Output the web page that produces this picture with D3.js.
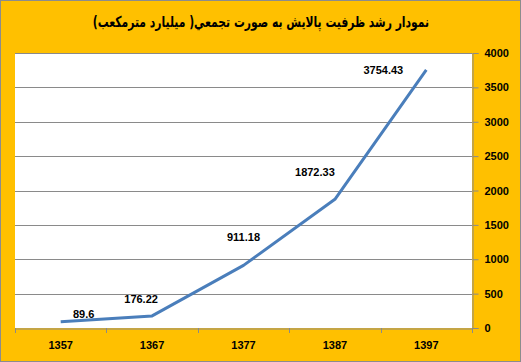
<!DOCTYPE html>
<html>
<head>
<meta charset="utf-8">
<script src="https://cdn.jsdelivr.net/npm/d3@7"></script>
<style>
  body { margin: 0; background: #fff; }
  text { font-family: "Liberation Sans", "DejaVu Sans", sans-serif; }
</style>
</head>
<body>
<script>
const years = ['1357', '1367', '1377', '1387', '1397'];
const capacity = [89.6, 176.22, 911.18, 1872.33, 3754.43];
const yTicks = [0, 500, 1000, 1500, 2000, 2500, 3000, 3500, 4000];
const title = 'نمودار رشد ظرفیت پالایش به صورت تجمعي( ميليارد مترمكعب)';
// label offsets relative to each point (Excel moved them around to avoid the line)
const labelOffsets = [[23, -4], [-11, -13], [0, -24], [-20, -23], [-43, 4]];

const width = 521;
const height = 362;
const margin = { top: 53, right: 49, bottom: 34, left: 15 };

const svg = d3.select('body').append('svg')
  .attr('width', width)
  .attr('height', height);

svg.append('rect')
  .attr('x', 0.5).attr('y', 0.5)
  .attr('width', width - 1).attr('height', height - 1)
  .attr('fill', '#FFC000')
  .attr('stroke', '#8c8c8c');

const x = d3.scaleBand()
  .domain(years)
  .range([margin.left, width - margin.right])
  .paddingInner(0).paddingOuter(0);

const y = d3.scaleLinear()
  .domain([0, 4000])
  .range([height - margin.bottom, margin.top]);

svg.append('rect')
  .attr('x', margin.left)
  .attr('y', margin.top)
  .attr('width', width - margin.left - margin.right)
  .attr('height', height - margin.top - margin.bottom)
  .attr('fill', '#fff');

// grid
svg.append('g')
  .selectAll('line')
  .data(yTicks.slice(1))
  .join('line')
  .attr('x1', margin.left)
  .attr('x2', width - margin.right)
  .attr('y1', d => Math.round(y(d)) + 0.5)
  .attr('y2', d => Math.round(y(d)) + 0.5)
  .attr('stroke', '#8a8a8a');

// y axis on the right
const yAxis = svg.append('g')
  .attr('transform', `translate(${width - margin.right + 0.5},0)`)
  .call(d3.axisRight(y).tickValues(yTicks).tickFormat(d3.format('d')).tickSize(6).tickPadding(6));
yAxis.selectAll('line, path').attr('stroke', '#8a8a8a');
yAxis.selectAll('text')
  .attr('fill', '#000')
  .style('font-size', '11px')
  .style('font-weight', 'bold');

// x axis
const xAxis = svg.append('g')
  .attr('transform', `translate(0,${height - margin.bottom + 0.5})`)
  .call(d3.axisBottom(x).tickSize(0).tickPadding(13));
xAxis.select('.domain').attr('stroke', '#8a8a8a');
xAxis.selectAll('text')
  .attr('fill', '#000')
  .style('font-size', '11px')
  .style('font-weight', 'bold');

svg.append('g')
  .selectAll('line')
  .data(years.concat(['end']))
  .join('line')
  .attr('x1', (d, i) => Math.round(margin.left + i * x.step()) + 0.5)
  .attr('x2', (d, i) => Math.round(margin.left + i * x.step()) + 0.5)
  .attr('y1', height - margin.bottom)
  .attr('y2', height - margin.bottom + 5)
  .attr('stroke', '#8a8a8a');

const line = d3.line()
  .x((d, i) => x(years[i]) + x.bandwidth() / 2)
  .y(d => y(d));

svg.append('path')
  .datum(capacity)
  .attr('d', line)
  .attr('fill', 'none')
  .attr('stroke', '#4A7EBB')
  .attr('stroke-width', 3)
  .attr('stroke-linejoin', 'round');

svg.append('g')
  .selectAll('text')
  .data(capacity)
  .join('text')
  .attr('x', (d, i) => x(years[i]) + x.bandwidth() / 2 + labelOffsets[i][0])
  .attr('y', (d, i) => y(d) + labelOffsets[i][1])
  .attr('text-anchor', 'middle')
  .style('font-size', '11px')
  .style('font-weight', 'bold')
  .text(d => d);

svg.append('text')
  .attr('transform', 'translate(261,27) scale(0.72,1)')
  .attr('text-anchor', 'middle')
  .attr('direction', 'rtl')
  .style('font-family', '"DejaVu Sans", sans-serif')
  .style('font-size', '15px')
  .style('font-weight', 'bold')
  .text(title);
</script>
</body>
</html>
